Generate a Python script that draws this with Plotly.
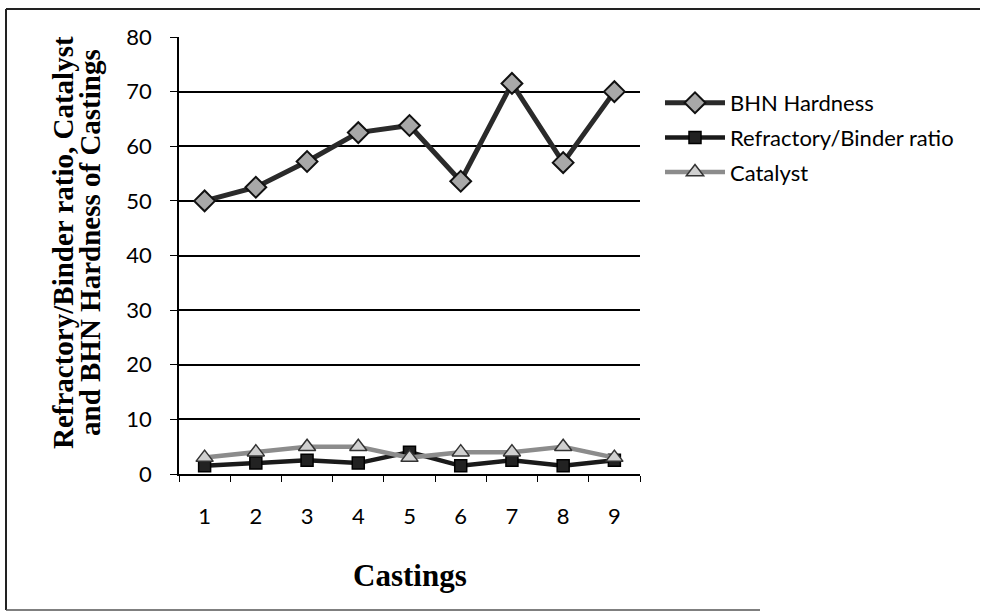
import plotly.graph_objects as go

castings = ["1", "2", "3", "4", "5", "6", "7", "8", "9"]
bhn_hardness = [50, 52.5, 57.2, 62.5, 63.8, 53.6, 71.5, 57, 70]
refractory_binder = [1.5, 2, 2.5, 2, 4, 1.5, 2.5, 1.5, 2.5]
catalyst = [3, 4, 5, 5, 3, 4, 4, 5, 3]
y_ticks = [0, 10, 20, 30, 40, 50, 60, 70, 80]

W, H = 986, 612
L, R, T, B = 179, 346, 37, 138
pw = W - L - R
ph = H - T - B

def px(x):
    return (x - L) / pw

def py(y):
    return (H - B - y) / ph

fig = go.Figure()
fig.add_trace(go.Scatter(
    x=castings, y=bhn_hardness, name="BHN Hardness", mode="lines+markers",
    line=dict(color="#2a2a2a", width=5),
    marker=dict(symbol="diamond", size=16, color="#a8a8a8", line=dict(color="#111", width=2)),
    legendgroup="a"))
fig.add_trace(go.Scatter(
    x=castings, y=refractory_binder, name="Refractory/Binder ratio", mode="lines+markers",
    line=dict(color="#1a1a1a", width=4.5),
    marker=dict(symbol="square", size=12, color="#222", line=dict(color="#000", width=1.5)),
    legendgroup="b"))
fig.add_trace(go.Scatter(
    x=castings, y=catalyst, name="Catalyst", mode="lines+markers",
    line=dict(color="#8c8c8c", width=4.5),
    marker=dict(symbol="triangle-up", size=15, color="#d0d0d0", line=dict(color="#333", width=1.5)),
    legendgroup="c"))

shapes = [
    dict(type="line", xref="paper", yref="paper", x0=px(6), x1=px(980), y0=py(9), y1=py(9),
         line=dict(color="#222", width=2)),
    dict(type="line", xref="paper", yref="paper", x0=px(6), x1=px(6), y0=py(9), y1=py(610),
         line=dict(color="#222", width=2)),
    dict(type="line", xref="paper", yref="paper", x0=px(6), x1=px(760), y0=py(610), y1=py(610),
         line=dict(color="#555", width=1.5)),
]

title_font = dict(family="Liberation Serif", size=29, color="#000")
annotations = [
    dict(text="<b>Refractory/Binder ratio, Catalyst</b>",
         xref="paper", yref="paper", x=px(63), y=py(243), xanchor="center", yanchor="middle",
         showarrow=False, textangle=-90, font=title_font),
    dict(text="<b>and BHN Hardness of Castings</b>",
         xref="paper", yref="paper", x=px(90), y=py(243), xanchor="center", yanchor="middle",
         showarrow=False, textangle=-90, font=title_font),
    dict(text="<b>Castings</b>", xref="paper", yref="paper", x=px(410), y=py(575),
         xanchor="center", yanchor="middle",
         showarrow=False, font=dict(family="Liberation Serif", size=31, color="#000")),
]

fig.update_layout(
    width=W, height=H, margin=dict(l=L, r=R, t=T, b=B),
    paper_bgcolor="white", plot_bgcolor="white",
    font=dict(family="Lato, Open Sans, sans-serif", size=22, color="#000"),
    showlegend=True,
    legend=dict(x=px(660), y=py(82), xanchor="left", yanchor="top",
                font=dict(family="Lato, Open Sans, sans-serif", size=22, color="#000"),
                tracegroupgap=3, itemwidth=60, bgcolor="rgba(0,0,0,0)"),
    shapes=shapes, annotations=annotations,
    xaxis=dict(type="category", showgrid=False, showline=True, linecolor="#000", linewidth=1.5,
               ticks="outside", ticklen=6, tickcolor="#000", tickson="boundaries",
               tickfont=dict(size=22), range=[-0.5, 8.5], zeroline=False,
               ticklabelstandoff=22),
    yaxis=dict(range=[0, 80], tickvals=y_ticks, showgrid=True, gridcolor="#000", gridwidth=1.5,
               showline=True, linecolor="#000", linewidth=1.5, ticks="outside", ticklen=7,
               tickcolor="#000", tickfont=dict(size=22), zeroline=False, ticklabelstandoff=14),
)

fig.write_html("out.html")
